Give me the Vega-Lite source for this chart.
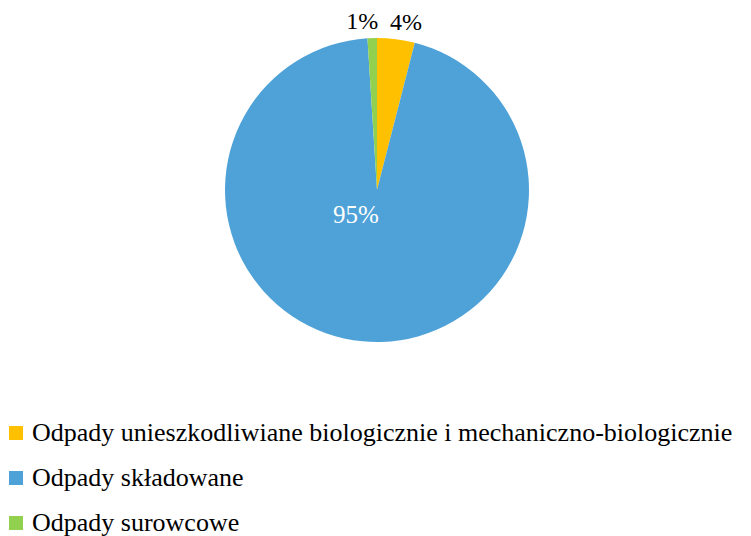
{
  "$schema": "https://vega.github.io/schema/vega-lite/v6.json",
  "width": 751,
  "height": 536,
  "autosize": {"type": "fit", "contains": "padding"},
  "padding": {"left": 3, "right": 0, "top": 20, "bottom": 0},
  "background": "white",
  "config": {"view": {"stroke": null}, "font": "Liberation Serif", "text": {"font": "Liberation Serif"}, "legend": {"labelFont": "Liberation Serif"}},
  "data": {
    "values": [
      {"category": "Odpady unieszkodliwiane biologicznie i mechaniczno-biologicznie", "value": 4, "label": "4%", "order": 1},
      {"category": "Odpady składowane", "value": 95, "label": "95%", "order": 2},
      {"category": "Odpady surowcowe", "value": 1, "label": "1%", "order": 3}
    ]
  },
  "encoding": {
    "theta": {"field": "value", "type": "quantitative", "stack": true},
    "order": {"field": "order", "type": "quantitative"},
    "color": {
      "field": "category",
      "type": "nominal",
      "scale": {
        "domain": ["Odpady unieszkodliwiane biologicznie i mechaniczno-biologicznie", "Odpady składowane", "Odpady surowcowe"],
        "range": ["#FFC000", "#4EA2D8", "#92D050"]
      },
      "legend": {
        "orient": "bottom",
        "direction": "vertical",
        "title": null,
        "symbolType": "square",
        "symbolSize": 196,
        "symbolStrokeWidth": 0,
        "labelFontSize": 26,
        "labelFont": "Liberation Serif",
        "labelColor": "black",
        "labelLimit": 0,
        "labelOffset": 3,
        "rowPadding": 19,
        "offset": 60
      }
    }
  },
  "layer": [
    {"mark": {"type": "arc", "outerRadius": 152}},
    {
      "transform": [{"filter": "datum.order == 2"}],
      "mark": {"type": "text", "radius": 25, "fontSize": 25, "font": "Liberation Serif", "dx": -25},
      "encoding": {"text": {"field": "label"}, "color": {"value": "white"}}
    },
    {
      "transform": [{"filter": "datum.order == 1"}],
      "mark": {"type": "text", "radius": 168, "fontSize": 24, "align": "left", "font": "Liberation Serif", "dx": -8},
      "encoding": {"text": {"field": "label"}, "color": {"value": "black"}}
    },
    {
      "transform": [{"filter": "datum.order == 3"}],
      "mark": {"type": "text", "radius": 168, "fontSize": 24, "align": "right", "font": "Liberation Serif", "dx": -4},
      "encoding": {"text": {"field": "label"}, "color": {"value": "black"}}
    }
  ]
}
